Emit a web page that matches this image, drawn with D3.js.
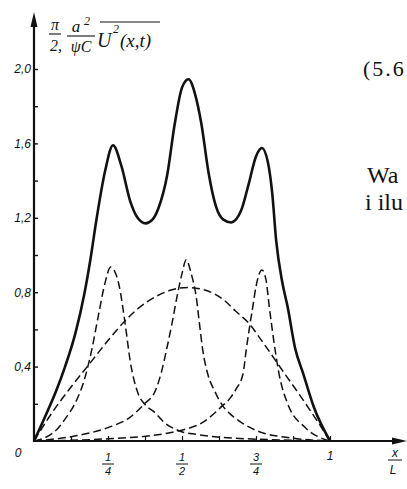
<!DOCTYPE html>
<html><head><meta charset="utf-8">
<script src="https://cdn.jsdelivr.net/npm/d3@7"></script>
<style>body{margin:0;background:#fff}svg{display:block}</style>
</head><body>
<script>
// ---- data (x in units of L, value on y axis) ----
const totalCurve = [[0,0],[0.04,0.14],[0.075,0.27],[0.105,0.4],[0.14,0.58],[0.17,0.79],[0.19,0.97],[0.21,1.18],[0.24,1.45],[0.267,1.59],[0.295,1.48],[0.325,1.29],[0.35,1.2],[0.377,1.17],[0.40,1.19],[0.42,1.25],[0.45,1.43],[0.475,1.7],[0.50,1.9],[0.522,1.945],[0.545,1.86],[0.565,1.71],[0.59,1.44],[0.615,1.26],[0.64,1.19],[0.666,1.175],[0.70,1.24],[0.725,1.38],[0.75,1.53],[0.77,1.575],[0.79,1.5],[0.805,1.33],[0.818,1.08],[0.838,0.86],[0.857,0.72],[0.882,0.5],[0.91,0.36],[0.946,0.18],[1,0]];
const peak1 = [[0,0],[0.04,0.02],[0.082,0.07],[0.11,0.13],[0.138,0.2],[0.172,0.34],[0.195,0.49],[0.217,0.67],[0.24,0.85],[0.259,0.935],[0.27,0.92],[0.287,0.84],[0.308,0.63],[0.325,0.43],[0.353,0.25],[0.373,0.2],[0.41,0.15],[0.44,0.1],[0.49,0.055],[0.55,0.035],[0.63,0.02],[0.75,0.01],[1,0]];
const peak2 = [[0,0],[0.138,0.027],[0.25,0.072],[0.323,0.126],[0.373,0.2],[0.41,0.27],[0.432,0.38],[0.449,0.5],[0.466,0.63],[0.483,0.775],[0.5,0.9],[0.514,0.975],[0.531,0.9],[0.548,0.775],[0.559,0.63],[0.57,0.49],[0.587,0.36],[0.61,0.27],[0.637,0.19],[0.66,0.15],[0.70,0.10],[0.77,0.045],[0.85,0.02],[1,0]];
const peak3 = [[0,0],[0.25,0.012],[0.40,0.03],[0.49,0.055],[0.57,0.10],[0.637,0.19],[0.66,0.225],[0.683,0.28],[0.706,0.36],[0.717,0.49],[0.728,0.61],[0.739,0.72],[0.75,0.83],[0.77,0.92],[0.784,0.865],[0.795,0.72],[0.804,0.61],[0.81,0.54],[0.828,0.36],[0.857,0.2],[0.918,0.07],[1,0]];
const broadCurve = [[0,0],[0.06,0.15],[0.12,0.28],[0.18,0.4],[0.25,0.54],[0.304,0.64],[0.35,0.71],[0.41,0.775],[0.46,0.81],[0.52,0.825],[0.58,0.81],[0.64,0.76],[0.68,0.7],[0.733,0.62],[0.76,0.56],[0.80,0.47],[0.828,0.405],[0.87,0.31],[0.918,0.2],[0.96,0.10],[1,0]];

const yTickValues = [0.2,0.4,0.6,0.8,1.0,1.2,1.4,1.6,1.8,2.0];
const yLabelValues = [0.4,0.8,1.2,1.6,2.0];
const yLabelTexts = ["0,4","0,8","1,2","1,6","2,0"];
const xTickValues = [0.125,0.25,0.375,0.5,0.625,0.75,0.875,1];
const xFracValues = [0.25,0.5,0.75];
const xFracNum = ["1","1","3"];
const xFracDen = ["4","2","4"];

// ---- drawing ----
const W = 407, H = 489;
const svg = d3.select("body").append("svg").attr("width", W).attr("height", H);
svg.append("rect").attr("width", W).attr("height", H).attr("fill", "#fff");

const x = d3.scaleLinear().domain([0,1]).range([34,330]);
const y = d3.scaleLinear().domain([0,2]).range([441,69]);

const ink = "#111";

// curves
const line = d3.line().x(d => x(d[0])).y(d => y(d[1])).curve(d3.curveMonotoneX);
const dashed = [broadCurve, peak1, peak2, peak3];
svg.append("g").selectAll("path").data(dashed).join("path")
  .attr("d", line).attr("fill","none").attr("stroke", ink)
  .attr("stroke-width",1.5).attr("stroke-dasharray","8,4");
svg.append("path").datum(totalCurve).attr("d", line)
  .attr("fill","none").attr("stroke", ink).attr("stroke-width",2.6)
  .attr("stroke-linejoin","round");

// y axis
const yAx = svg.append("g").attr("transform",`translate(${x(0)},0)`)
  .call(d3.axisRight(y).tickValues(yTickValues).tickSize(4).tickSizeOuter(0).tickFormat(""));
yAx.select(".domain").remove();
yAx.selectAll(".tick line").attr("stroke", ink).attr("stroke-width",1.4);
svg.append("line").attr("x1",x(0)).attr("x2",x(0)).attr("y1",y(0)+1).attr("y2",22)
  .attr("stroke",ink).attr("stroke-width",2.2);
svg.append("path").attr("d",`M${x(0)},12 L${x(0)-3.5},27 L${x(0)+3.5},27 Z`).attr("fill",ink);

const yLab = svg.append("g").attr("transform",`translate(${x(0)},0)`)
  .call(d3.axisLeft(y).tickValues(yLabelValues).tickSize(0).tickPadding(3)
    .tickFormat((d,i) => yLabelTexts[i]));
yLab.select(".domain").remove();
yLab.selectAll("text").attr("font-family","Liberation Sans, Arial, sans-serif")
  .attr("font-style","italic").attr("font-size",12).attr("fill",ink);

// x axis
const xAx = svg.append("g").attr("transform",`translate(0,${y(0)})`)
  .call(d3.axisTop(x).tickValues(xTickValues).tickSize(5).tickSizeOuter(0).tickFormat(""));
xAx.select(".domain").remove();
xAx.selectAll(".tick line").attr("stroke", ink).attr("stroke-width",1.2);
svg.append("line").attr("x1",x(0)-1).attr("x2",396).attr("y1",y(0)).attr("y2",y(0))
  .attr("stroke",ink).attr("stroke-width",2.2);
svg.append("path").attr("d",`M407,${y(0)} L392,${y(0)-3.5} L392,${y(0)+3.5} Z`).attr("fill",ink);

const labFont = "Liberation Sans, Arial, sans-serif";
svg.append("text").attr("x",18).attr("y",457).attr("text-anchor","middle")
  .attr("font-family",labFont).attr("font-style","italic").attr("font-size",12).attr("fill",ink).text("0");
svg.append("text").attr("x",x(1)).attr("y",460).attr("text-anchor","middle")
  .attr("font-family",labFont).attr("font-style","italic").attr("font-size",12).attr("fill",ink).text("1");

const fr = svg.append("g").selectAll("g").data(xFracValues).join("g")
  .attr("transform", d => `translate(${x(d)},0)`);
fr.append("text").attr("y",461).attr("text-anchor","middle")
  .attr("font-family",labFont).attr("font-style","italic").attr("font-size",11).attr("fill",ink)
  .text((d,i) => xFracNum[i]);
fr.append("line").attr("x1",-6).attr("x2",6).attr("y1",464).attr("y2",464)
  .attr("stroke",ink).attr("stroke-width",1);
fr.append("text").attr("y",475).attr("text-anchor","middle")
  .attr("font-family",labFont).attr("font-style","italic").attr("font-size",11).attr("fill",ink)
  .text((d,i) => xFracDen[i]);

// x/L label
svg.append("text").attr("x",395).attr("y",457).attr("text-anchor","middle")
  .attr("font-family",labFont).attr("font-style","italic").attr("font-size",12).attr("fill",ink).text("x");
svg.append("line").attr("x1",388).attr("x2",402).attr("y1",460).attr("y2",460).attr("stroke",ink).attr("stroke-width",1);
svg.append("text").attr("x",393).attr("y",474).attr("text-anchor","middle")
  .attr("font-family",labFont).attr("font-style","italic").attr("font-size",12).attr("fill",ink).text("L");

// y-axis title: π/2 · a²/ψC · overline U²(x,t)
const tf = "Liberation Serif, Times New Roman, serif";
const t = svg.append("g").attr("font-family",tf).attr("font-style","italic").attr("fill",ink);
t.append("text").attr("x",55).attr("y",30).attr("text-anchor","middle").attr("font-size",16).text("π");
t.append("line").attr("x1",49).attr("x2",61).attr("y1",34).attr("y2",34).attr("stroke",ink).attr("stroke-width",1.1);
t.append("text").attr("x",56).attr("y",51).attr("text-anchor","middle").attr("font-size",16).text("2,");
t.append("text").attr("x",76).attr("y",32).attr("text-anchor","middle").attr("font-size",17).text("a");
t.append("text").attr("x",87).attr("y",25).attr("text-anchor","middle").attr("font-size",12).text("2");
t.append("line").attr("x1",67).attr("x2",95).attr("y1",36).attr("y2",36).attr("stroke",ink).attr("stroke-width",1.1);
t.append("text").attr("x",81).attr("y",52).attr("text-anchor","middle").attr("font-size",16).text("ψC");
t.append("text").attr("x",97).attr("y",47).attr("font-size",20).text("U");
t.append("text").attr("x",113).attr("y",33).attr("font-size",12).text("2");
t.append("text").attr("x",120).attr("y",47).attr("font-size",19).text("(x,t)");
t.append("line").attr("x1",100).attr("x2",160).attr("y1",22).attr("y2",22).attr("stroke",ink).attr("stroke-width",1.2);

// surrounding book text (cut at the right edge)
const bt = svg.append("g").attr("font-family",tf).attr("fill",ink);
bt.append("text").attr("x",363).attr("y",76).attr("font-size",22).attr("letter-spacing",2).text("(5.6");
bt.append("text").attr("x",367).attr("y",183).attr("font-size",24).text("Wa");
bt.append("text").attr("x",365).attr("y",210).attr("font-size",24).text("i ilu");
</script>
</body></html>
